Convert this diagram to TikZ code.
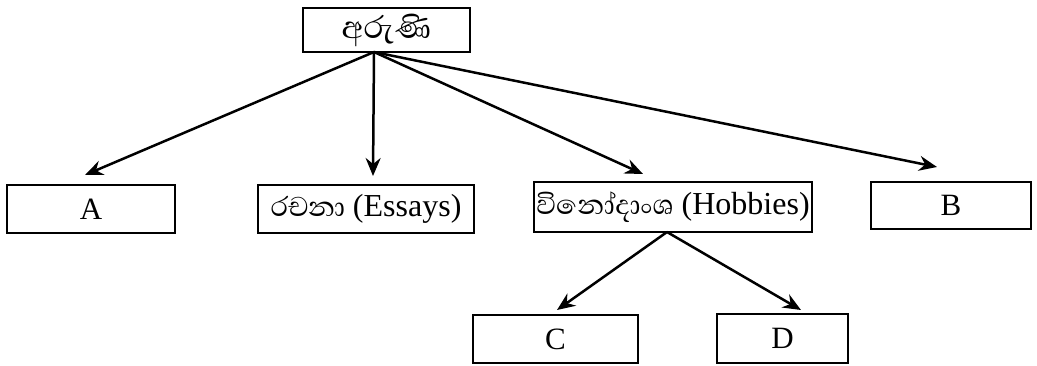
\documentclass[tikz,border=0pt]{standalone}
\usepackage{fontspec}
\setmainfont{Liberation Serif}
\newfontfamily\sinhfont[Script=Sinhala]{Abhaya Libre}
\usetikzlibrary{arrows.meta}
\newcommand{\sinhtext}[2]{{\fontsize{#1}{#1}\sinhfont #2}}
\begin{document}
\begin{tikzpicture}[x=1pt,y=-1pt,
  box/.style={draw=black,line width=2.8pt,minimum width=#1,inner sep=0pt,
    font=\fontsize{31}{34}\selectfont},
  wide/.style={font=\fontsize{32}{35}\selectfont},
  conn/.style={line width=2.5pt,-{Stealth[length=18pt,width=15pt,inset=6pt]}}]
\useasboundingbox (0,0) rectangle (1037,365);
\node[box=167pt,minimum height=44pt] (top) at (386.5,30) {\sinhtext{40}{අරුණි}};
\node[box=168pt,minimum height=48pt] (A) at (91,209) {A};
\node[box=216pt,minimum height=48pt,wide] (E) at (366,209) {\sinhtext{35}{රචනා} (Essays)};
\node[box=278pt,minimum height=50pt,wide] (H) at (673,207) {\sinhtext{35}{විනෝදාංශ} (Hobbies)};
\node[box=160pt,minimum height=47pt] (B) at (951,205.5) {B};
\node[box=165pt,minimum height=48pt] (C) at (555.5,339) {C};
\node[box=131pt,minimum height=49pt] (D) at (782.5,338.5) {D};
\coordinate (o1) at (374,52);
\coordinate (o2) at (667,232);
\coordinate (tA) at (85,175);
\coordinate (tE) at (373,176);
\coordinate (tH) at (643,174);
\coordinate (tB) at (937,167);
\coordinate (tC) at (557,310);
\coordinate (tD) at (801,310);
\draw[conn] (o1) -- (tA);
\draw[conn] (o1) -- (tE);
\draw[conn] (o1) -- (tH);
\draw[conn] (o1) -- (tB);
\draw[conn] (o2) -- (tC);
\draw[conn] (o2) -- (tD);
\end{tikzpicture}
\end{document}
